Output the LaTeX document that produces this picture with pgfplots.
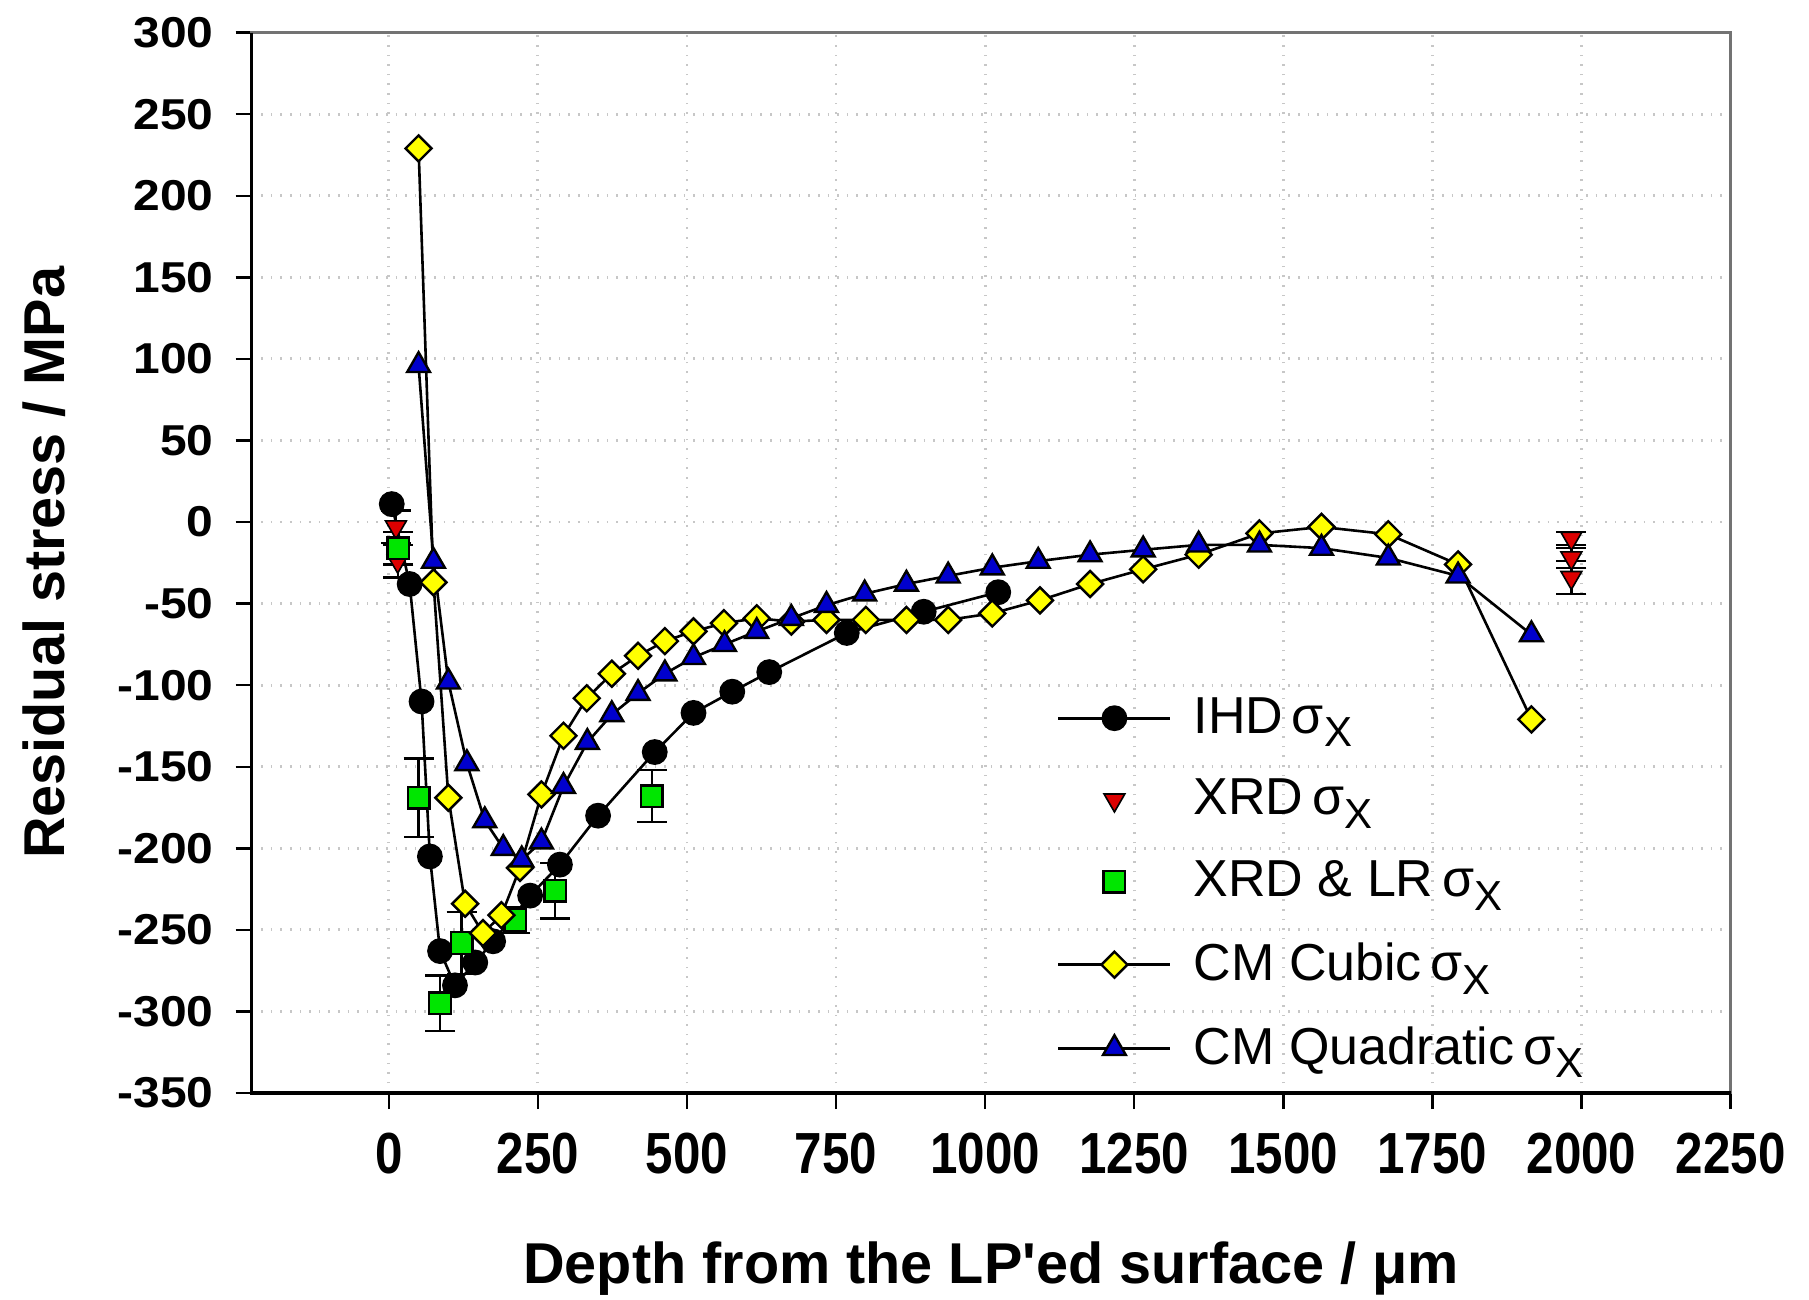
\documentclass[border=0pt]{standalone}
\usepackage{fontspec}
\setmainfont{Liberation Sans}
\newfontfamily\ytickfont[FakeStretch=1.11]{Liberation Sans}
\newfontfamily\xtickfont[FakeStretch=0.85]{Liberation Sans}
\usepackage{pgfplots}
\pgfplotsset{compat=1.18}

\definecolor{cmyellow}{RGB}{255,255,0}
\definecolor{cmblue}{RGB}{0,0,205}
\definecolor{lrgreen}{RGB}{0,230,0}
\definecolor{xrdred}{RGB}{220,0,0}

\newcommand{\sx}{\,σ\raisebox{-0.5ex}{\fontsize{10.5}{10.5}\selectfont X}}

\pgfplotsset{
  lineleg/.style={legend image code/.code={\draw[##1,mark repeat=2,mark phase=2] plot coordinates {(0pt,0pt) (14pt,0pt) (28pt,0pt)};}},
  markleg/.style={legend image code/.code={\draw[##1,only marks] plot coordinates {(14pt,0pt)};}},
}

\begin{document}
\begin{tikzpicture}
\begin{axis}[
    at={(0,0)}, anchor=south west,
    scale only axis,
    width=369.75pt, height=265.1pt,
    xmin=-230, xmax=2250,
    ymin=-350, ymax=300,
    xtick={0,250,...,2250},
    ytick={-350,-300,...,300},
    xtick pos=left, ytick pos=left,
    tick align=outside,
    major tick length=4pt,
    tick style={black, line width=0.6pt},
    axis line style={black!55, line width=0.6pt},
    grid=major,
    major grid style={dotted, line width=0.7pt, black!22},
    /pgf/number format/assume math mode=true,
    /pgf/number format/1000 sep={},
    yticklabel style={font=\ytickfont\bfseries\fontsize{10.8}{12}\selectfont, xshift=-2pt},
    xticklabel style={font=\xtickfont\bfseries\fontsize{14.5}{16}\selectfont, yshift=-2.5pt},
    every axis x label/.style={at={(axis description cs:0.5,0)}, yshift=-44pt, anchor=center},
    every axis y label/.style={at={(axis description cs:0,0.5)}, xshift=-51.9pt, rotate=90, anchor=center},
    xlabel={\bfseries\fontsize{14.4}{16}\selectfont Depth from the LP\textquotesingle ed surface / μm},
    ylabel={\bfseries\fontsize{14.4}{16}\selectfont Residual stress / MPa},
    legend cell align=left,
    legend style={draw=none, fill=none, at={(0.536,0.389)}, anchor=north west,
        font=\fontsize{13}{15}\selectfont, row sep=6.0pt, column sep=3.5pt},
    error bars/error bar style={black, line width=0.6pt},
    error bars/error mark options={rotate=90, black, mark size=3.75pt, line width=0.6pt},
]

% IHD
\addplot[black, line width=0.65pt, mark=*, mark size=2.9pt,
    mark options={fill=black, draw=black}, lineleg] coordinates {
    (5,11) (35,-38) (55,-110) (69,-205) (86,-263) (111,-284) (145,-270)
    (175,-257) (237,-229) (287,-210) (351,-180) (446,-141) (511,-117)
    (576,-104) (638,-92) (768,-68) (897,-55) (1022,-43)
};
\addlegendentry{IHD\sx}

% XRD
\addplot[only marks, mark=triangle*, mark size=3pt,
    mark options={rotate=180, fill=xrdred, draw=black, line width=0.4pt}, markleg,
    error bars/.cd, y dir=both, y explicit] coordinates {
    (12,-3) +- (0,10)
    (15,-24) +- (0,10)
    (1983,-10) +- (0,4)
    (1983,-22) +- (0,6)
    (1983,-34) +- (0,10)
};
\addlegendentry{XRD\sx}

% XRD & LR
\addplot[only marks, mark=square*, mark size=2.7pt,
    mark options={fill=lrgreen, draw=black, line width=0.6pt}, markleg,
    error bars/.cd, y dir=both, y explicit] coordinates {
    (16,-16) +- (0,10)
    (50,-169) +- (0,24)
    (86,-295) +- (0,17)
    (122,-258) +- (0,19)
    (212,-244) +- (0,8)
    (279,-226) +- (0,17)
    (441,-168) +- (0,16)
};
\addlegendentry{XRD \& LR\sx}

% CM cubic
\addplot[black, line width=0.65pt, mark=square*, mark size=2.3pt,
    mark options={rotate=45, fill=cmyellow, draw=black, line width=0.6pt}, lineleg] coordinates {
    (50,229) (75,-37) (100,-169) (128,-234) (158,-252) (189,-241) (220,-212)
    (256,-167) (293,-131) (332,-108) (374,-93) (418,-82) (463,-73) (511,-67)
    (562,-62) (617,-59) (675,-61) (734,-60) (800,-60) (868,-60) (938,-60)
    (1012,-56) (1092,-48) (1176,-38) (1265,-29) (1358,-20) (1460,-7)
    (1564,-3) (1676,-7.5) (1793,-26) (1916,-121)
};
\addlegendentry{CM Cubic\sx}

% CM quadratic
\addplot[black, line width=0.65pt, mark=triangle*, mark size=3.3pt,
    mark options={fill=cmblue, draw=black, line width=0.6pt}, lineleg] coordinates {
    (50,96) (75,-24) (100,-98) (131,-148) (161,-183) (192,-200) (223,-207)
    (256,-196) (293,-162) (333,-135) (374,-118) (418,-105) (463,-93) (511,-83)
    (563,-75) (617,-67) (675,-59) (734,-51) (798,-44) (868,-38) (938,-33)
    (1012,-28) (1089,-24) (1176,-20) (1265,-17) (1358,-14) (1460,-14)
    (1564,-16) (1676,-22) (1793,-33) (1916,-69)
};
\addlegendentry{CM Quadratic\sx}

\end{axis}
\draw[black, line width=0.9pt] (current axis.north west) -- (current axis.south west) -- (current axis.south east);
\pgfresetboundingbox
\path (-62.9pt,-51.5pt) rectangle (389.35pt,273.25pt);
\end{tikzpicture}
\end{document}
